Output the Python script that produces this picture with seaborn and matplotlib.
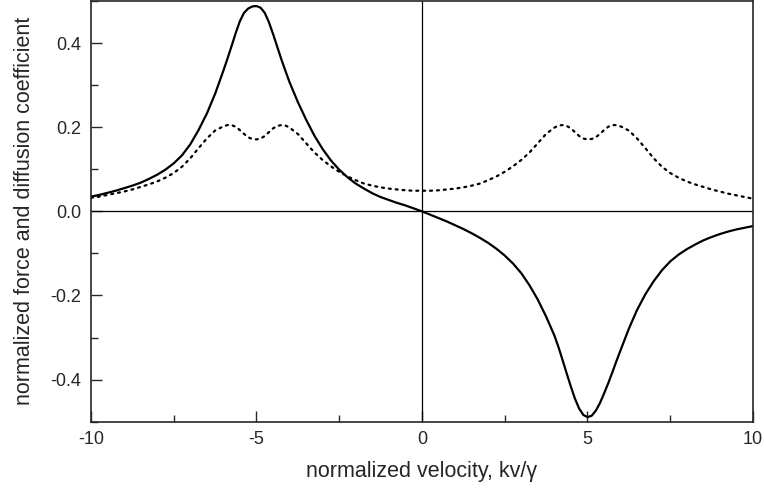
import seaborn as sns
import pandas as pd
import matplotlib.pyplot as plt
from matplotlib.ticker import MultipleLocator

# values
velocity = [-10, -9.75, -9.5, -9.25, -9, -8.75, -8.5, -8.25, -8, -7.75, -7.5, -7.25, -7,
            -6.75, -6.5, -6.25, -6,
            -5.875, -5.75, -5.625, -5.5, -5.375, -5.25, -5.125, -5, -4.875, -4.75, -4.625,
            -4.5, -4.375, -4.25, -4.125,
            -4, -3.75, -3.5, -3.25, -3, -2.75, -2.5, -2.25, -2, -1.75, -1.5, -1.25, -1,
            -0.75, -0.5, -0.25, 0, 0.25, 0.5, 0.75, 1, 1.25, 1.5, 1.75, 2, 2.25, 2.5,
            2.75, 3, 3.25, 3.5, 3.75, 4,
            4.125, 4.25, 4.375, 4.5, 4.625, 4.75, 4.875, 5, 5.125, 5.25, 5.375, 5.5,
            5.625, 5.75, 5.875,
            6, 6.25, 6.5, 6.75, 7, 7.25, 7.5, 7.75, 8, 8.25, 8.5, 8.75, 9, 9.25, 9.5,
            9.75, 10]

force = [0.035, 0.039, 0.044, 0.049, 0.055, 0.061, 0.068, 0.077, 0.087, 0.099, 0.114, 0.133, 0.159,
         0.193, 0.232, 0.279, 0.334,
         0.363, 0.393, 0.424, 0.452, 0.472, 0.482, 0.487, 0.488, 0.484, 0.472, 0.450,
         0.422, 0.392, 0.362, 0.334,
         0.307, 0.260, 0.218, 0.180, 0.148, 0.121, 0.099, 0.081, 0.066, 0.054, 0.043, 0.034, 0.027,
         0.020, 0.014, 0.007, 0.0, -0.008, -0.016, -0.024, -0.033, -0.042, -0.052, -0.063, -0.075, -0.089, -0.105,
         -0.124, -0.147, -0.176, -0.210, -0.250, -0.295,
         -0.323, -0.354, -0.386, -0.417, -0.446, -0.469, -0.484, -0.489, -0.486, -0.474, -0.456, -0.433,
         -0.409, -0.383, -0.356,
         -0.330, -0.279, -0.234, -0.197, -0.166, -0.140, -0.119, -0.103, -0.090, -0.079, -0.069, -0.061, -0.054, -0.048, -0.043,
         -0.039, -0.035]

diffusion = [0.032, 0.035, 0.039, 0.043, 0.047, 0.052, 0.058, 0.064, 0.071, 0.080, 0.091, 0.106, 0.126,
             0.150, 0.173, 0.192, 0.202,
             0.205, 0.205, 0.201, 0.193, 0.184, 0.176, 0.172, 0.171, 0.173, 0.179, 0.188,
             0.197, 0.203, 0.205, 0.204,
             0.199, 0.184, 0.162, 0.140, 0.122, 0.107, 0.094, 0.083, 0.074, 0.066, 0.061, 0.057, 0.054,
             0.052, 0.050, 0.049, 0.049, 0.049, 0.050, 0.052, 0.054, 0.057, 0.061, 0.066, 0.074, 0.083, 0.094,
             0.107, 0.122, 0.140, 0.162, 0.184, 0.199,
             0.204, 0.205, 0.203, 0.197, 0.188, 0.179, 0.173, 0.171, 0.172, 0.176, 0.184, 0.193,
             0.201, 0.205, 0.205,
             0.202, 0.192, 0.173, 0.150, 0.126, 0.106, 0.091, 0.080, 0.071, 0.064, 0.058, 0.052, 0.047, 0.042, 0.038,
             0.034, 0.030]

df = pd.DataFrame({'v': velocity, 'force': force, 'diffusion': diffusion})

sns.set_style('ticks')
plt.rcParams['font.family'] = ['Liberation Sans', 'DejaVu Sans']
plt.rcParams['axes.unicode_minus'] = False

fig = plt.figure(figsize=(7.64, 4.9), dpi=100)
ax = fig.add_axes([0.119, 0.1394, 0.8666, 0.8586])

# zero lines
ax.axhline(0, color='black', lw=0.9, zorder=1)
ax.axvline(0, color='black', lw=0.9, zorder=1)

sns.lineplot(data=df, x='v', y='diffusion', ax=ax, color='black', lw=1.6,
             linestyle=(0, (0.9, 2.2)), dash_capstyle='round')
sns.lineplot(data=df, x='v', y='force', ax=ax, color='black', lw=1.6)

ax.set_xlim(-10, 10)
ax.set_ylim(-0.5, 0.5)
ax.xaxis.set_major_locator(MultipleLocator(5))
ax.xaxis.set_minor_locator(MultipleLocator(2.5))
ax.yaxis.set_major_locator(MultipleLocator(0.2))
ax.yaxis.set_minor_locator(MultipleLocator(0.1))
ax.yaxis.set_major_formatter(plt.FormatStrFormatter('%.1f'))
ax.tick_params(which='major', direction='in', length=8, width=1, labelsize=13, pad=7)
ax.tick_params(which='minor', direction='in', length=5, width=1)
for s in ax.spines.values():
    s.set_linewidth(1.2)

ax.set_xlabel('normalized velocity, kv/γ', fontsize=15.5, labelpad=9)
ax.set_ylabel('normalized force and diffusion coefficient', fontsize=15.5, labelpad=11)

plt.savefig('out.png', dpi=100)
